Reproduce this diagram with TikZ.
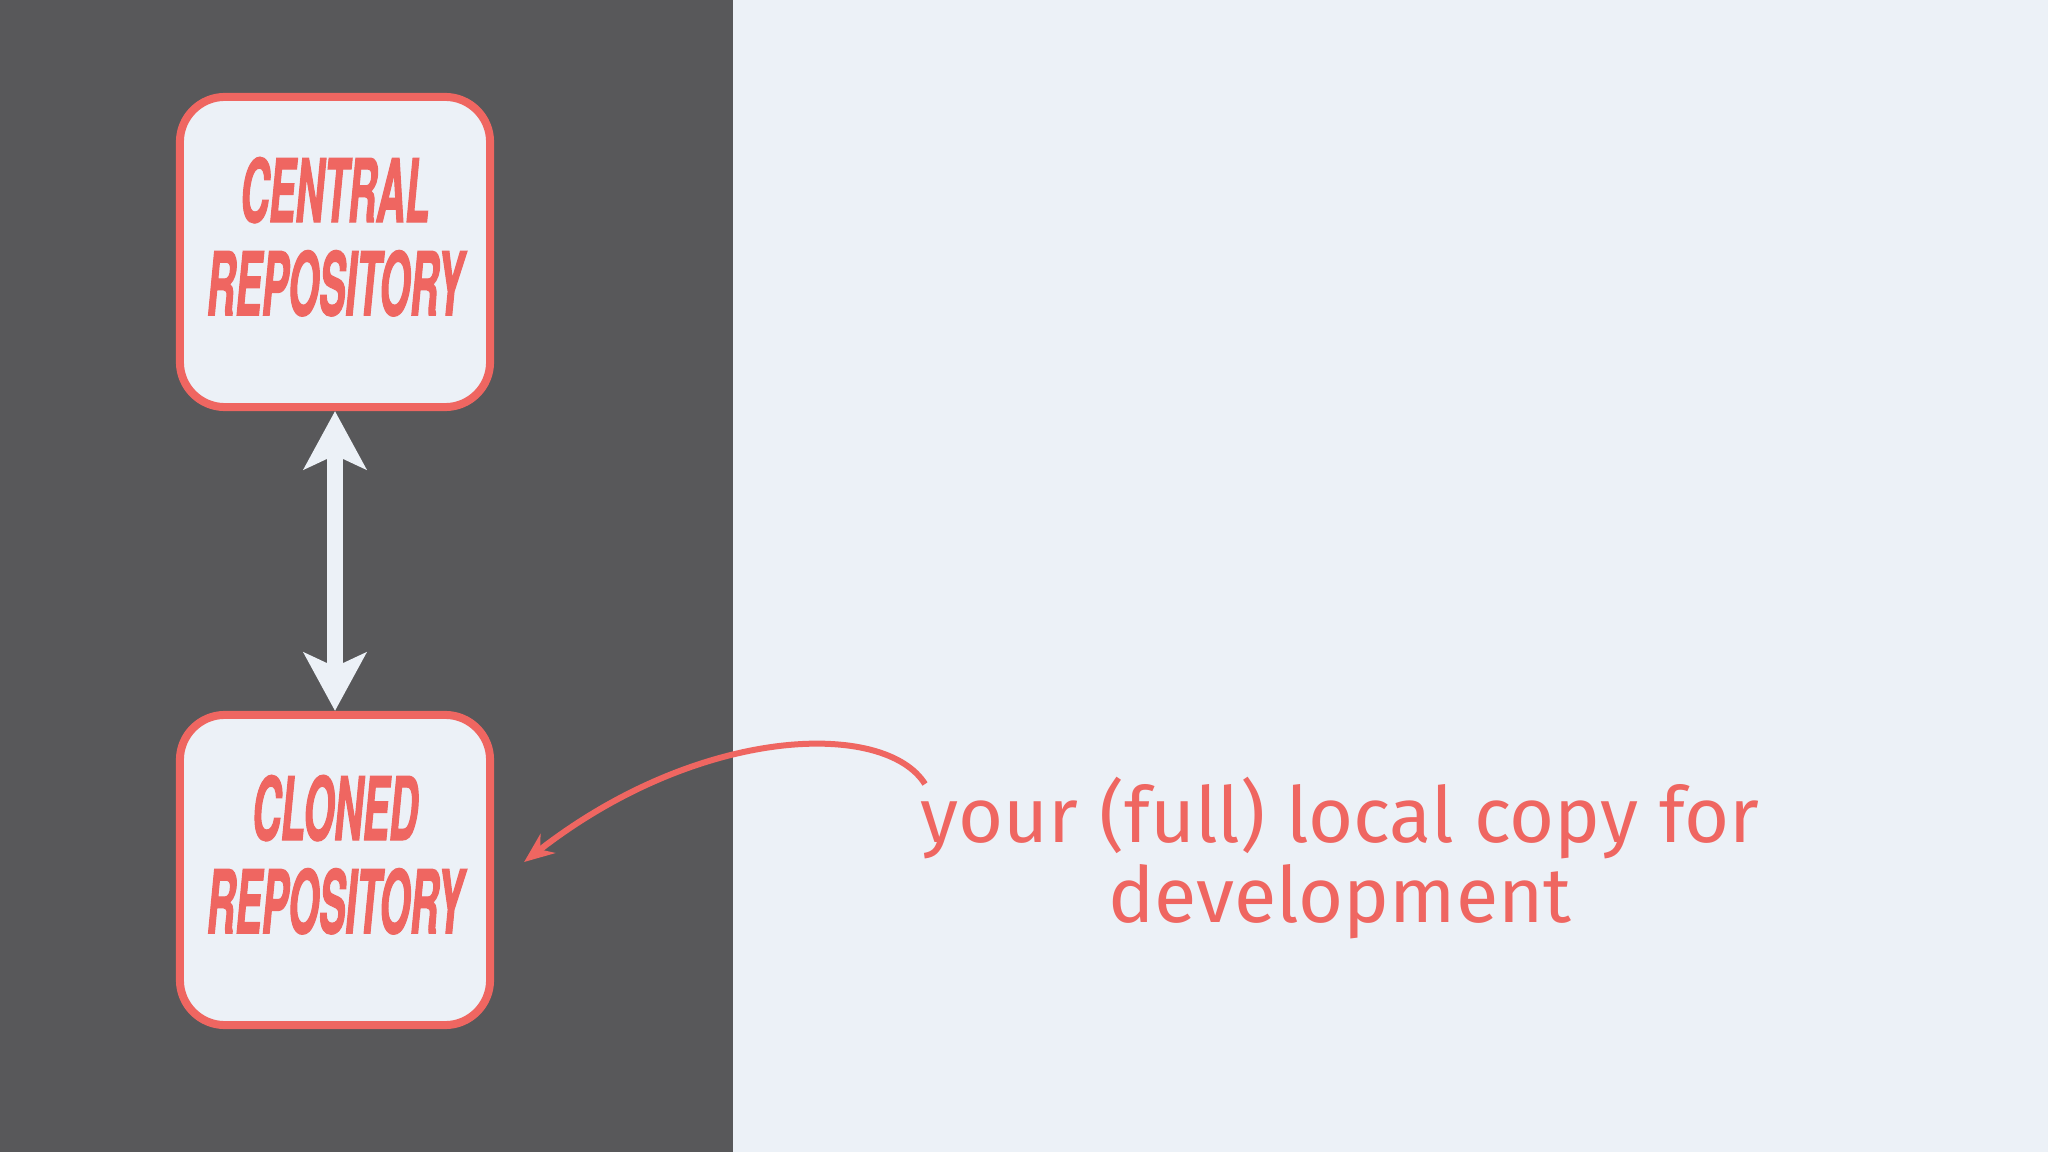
\documentclass[tikz,border=0pt]{standalone}
\usepackage{fontspec}
\usepackage{tikz}
\usetikzlibrary{shapes,arrows.meta}
\newfontfamily\boxfont{TeX Gyre Heros}[FakeStretch=0.45,FakeBold=1.2]
\newfontfamily\notefont{Fira Sans}
\definecolor{slate}{HTML}{58585A}
\definecolor{paper}{HTML}{ECF1F7}
\definecolor{coral}{HTML}{EF6661}
\tikzstyle{repobox} = [rectangle, rounded corners=0.45cm, minimum width=3.1cm, minimum height=3.1cm, text centered, align=center, text depth=9pt, draw=coral, line width=0.08cm, fill=paper, text=coral, font=\boxfont\bfseries\itshape\fontsize{25}{26.5}\selectfont]
\tikzstyle{note} = [align=center, text=coral, font=\notefont\fontsize{22}{23}\selectfont]
\tikzstyle{syncarrow} = [draw=paper, line width=0.16cm, {Stealth[length=0.58cm,width=0.62cm,inset=0.14cm]}-{Stealth[length=0.58cm,width=0.62cm,inset=0.14cm]}]
\tikzstyle{notearrow} = [draw=coral, line width=0.06cm, -{Stealth[length=0.3cm,width=0.24cm]}]

\begin{document}
\begin{tikzpicture}[x=0.01cm, y=-0.01cm]
        % background panels
        \fill[slate] (0,0) rectangle (733,1152);
        \fill[paper] (733,0) rectangle (2048,1152);
        \useasboundingbox (0,0) rectangle (2048,1152);
        \node (central) [repobox] at (335,252) {CENTRAL\\REPOSITORY};
        \node (cloned) [repobox] at (335,870) {CLONED\\REPOSITORY};
        \node (note) [note] at (1340,858) {your (full) local copy for\\development};
        \coordinate (tail) at (925,784);
        \draw [syncarrow] (central.south) -- (cloned.north);
        \draw [notearrow] (tail) .. controls (885,720) and (700,725) .. ([xshift=0.3cm, yshift=0.08cm]cloned.east);
    \end{tikzpicture}
\end{document}
